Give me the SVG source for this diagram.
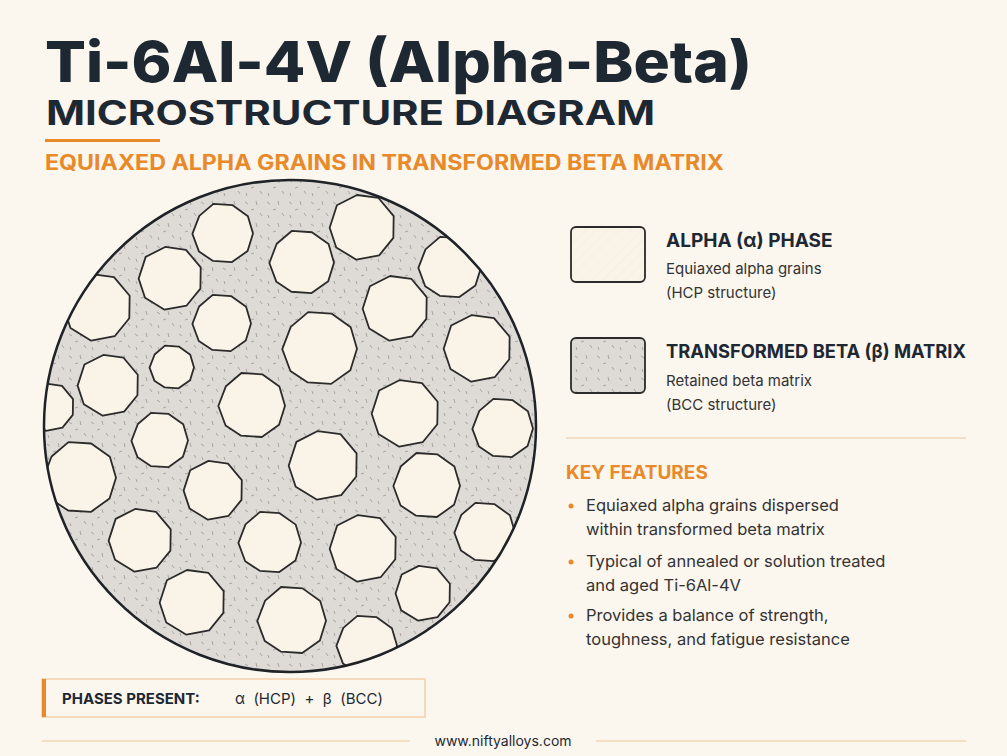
<svg xmlns="http://www.w3.org/2000/svg" xmlns:xlink="http://www.w3.org/1999/xlink" width="1007" height="756" viewBox="0 0 1007 756">
<style>
.t{font-family:"Inter","Liberation Sans",sans-serif;fill:#1d2833}
.o{fill:#e8892a}
.g{fill:#faf3e8;stroke:#2b2b2b;stroke-width:1.8;stroke-linejoin:round}
.s{font-size:15px;fill:#333}
.b{font-size:16.5px;fill:#333}
</style>
<defs>
<pattern id="hatch" width="8" height="8" patternUnits="userSpaceOnUse" patternTransform="rotate(45)">
<rect width="8" height="8" fill="#faf3e8"/><line x1="0" y1="0" x2="0" y2="8" stroke="#f1e8da" stroke-width="0.8"/>
</pattern>
<pattern id="dots" width="22" height="22" patternUnits="userSpaceOnUse">
<rect width="22" height="22" fill="#dedbd6"/>
<g stroke="#9a9690" stroke-width="0.8">
<line x1="3" y1="4" x2="6" y2="6"/><line x1="14" y1="3" x2="15" y2="7"/><line x1="9" y1="12" x2="12" y2="11"/><line x1="18" y1="15" x2="20" y2="18"/><line x1="4" y1="17" x2="5" y2="20"/>
</g>
</pattern>
<clipPath id="cc"><circle cx="290" cy="426" r="246"/></clipPath>
<polygon id="gA" vector-effect="non-scaling-stroke" points="1,0.02 0.82,0.6 0.3,0.97 -0.33,0.93 -0.8,0.62 -1.02,0.03 -0.79,-0.57 -0.32,-0.97 0.31,-0.93 0.83,-0.56"/>
<polygon id="gB" vector-effect="non-scaling-stroke" points="0.95,0.33 0.52,0.86 -0.17,0.99 -0.78,0.62 -0.98,0.02 -0.76,-0.66 -0.15,-0.97 0.5,-0.88 0.96,-0.33"/>
</defs>
<rect width="1007" height="756" fill="#fbf6ee"/>
<g id="title">
<text class="t" x="45" y="82" font-size="57" font-weight="800" textLength="707" lengthAdjust="spacingAndGlyphs">Ti-6Al-4V (Alpha-Beta)</text>
<text class="t" x="46" y="125" font-size="34" font-weight="700" textLength="609" lengthAdjust="spacingAndGlyphs">MICROSTRUCTURE DIAGRAM</text>
<rect x="45" y="139" width="115" height="3" fill="#e8892a"/>
<text class="t o" x="45" y="170" font-size="21" font-weight="700" textLength="679" lengthAdjust="spacingAndGlyphs">EQUIAXED ALPHA GRAINS IN TRANSFORMED BETA MATRIX</text>
</g>
<g id="micrograph">
<circle cx="290" cy="426" r="246" fill="url(#dots)"/>
<g clip-path="url(#cc)" class="g">
<use href="#gA" transform="translate(223 233) scale(30)"/>
<use href="#gB" transform="translate(362 227) scale(33)"/>
<use href="#gB" transform="translate(170 278) scale(32)"/>
<use href="#gA" transform="translate(302 262) scale(32)"/>
<use href="#gA" transform="translate(450 267) scale(31)"/>
<use href="#gB" transform="translate(97 307) scale(34)"/>
<use href="#gA" transform="translate(222 323) scale(29)"/>
<use href="#gB" transform="translate(395 308) scale(33)"/>
<use href="#gA" transform="translate(320 348) scale(37)"/>
<use href="#gB" transform="translate(477 348) scale(34)"/>
<use href="#gA" transform="translate(172 367) scale(22)"/>
<use href="#gB" transform="translate(108 385) scale(31)"/>
<use href="#gA" transform="translate(252 405) scale(33)"/>
<use href="#gB" transform="translate(405 413) scale(34)"/>
<use href="#gA" transform="translate(503 428) scale(30)"/>
<use href="#gB" transform="translate(50 407) scale(24)"/>
<use href="#gA" transform="translate(160 440) scale(28)"/>
<use href="#gB" transform="translate(323 465) scale(35)"/>
<use href="#gA" transform="translate(80 477) scale(36)"/>
<use href="#gB" transform="translate(213 490) scale(30)"/>
<use href="#gA" transform="translate(427 485) scale(33)"/>
<use href="#gB" transform="translate(140 540) scale(32)"/>
<use href="#gA" transform="translate(270 542) scale(31)"/>
<use href="#gB" transform="translate(363 548) scale(34)"/>
<use href="#gA" transform="translate(485 532) scale(30)"/>
<use href="#gB" transform="translate(192 602) scale(33)"/>
<use href="#gA" transform="translate(292 620) scale(34)"/>
<use href="#gB" transform="translate(423 593) scale(28)"/>
<use href="#gA" transform="translate(367 645) scale(30)"/>
</g>
<circle cx="290" cy="426" r="246" fill="none" stroke="#1f2226" stroke-width="2.5"/>
</g>
<g id="legend-alpha">
<rect x="571" y="227" width="74" height="55" rx="5" fill="url(#hatch)" stroke="#2b2b2b" stroke-width="1.8"/>
<text class="t" x="666" y="247" font-size="19" font-weight="700">ALPHA (α) PHASE</text>
<text class="t s" x="666" y="274">Equiaxed alpha grains</text>
<text class="t s" x="666" y="298">(HCP structure)</text>
</g>
<g id="legend-beta">
<rect x="571" y="338" width="74" height="55" rx="5" fill="url(#dots)" stroke="#2b2b2b" stroke-width="1.8"/>
<text class="t" x="666" y="358" font-size="19" font-weight="700" textLength="300" lengthAdjust="spacingAndGlyphs">TRANSFORMED BETA (β) MATRIX</text>
<text class="t s" x="666" y="386">Retained beta matrix</text>
<text class="t s" x="666" y="410">(BCC structure)</text>
</g>
<line x1="566" y1="438" x2="966" y2="438" stroke="#f0c89a" stroke-width="1.2"/>
<g id="key-features">
<text class="t o" x="566" y="479" font-size="19" font-weight="700">KEY FEATURES</text>
<circle cx="571" cy="506" r="2.5" fill="#e8892a"/>
<circle cx="571" cy="562" r="2.5" fill="#e8892a"/>
<circle cx="571" cy="616" r="2.5" fill="#e8892a"/>
<text class="t b" x="586" y="511">Equiaxed alpha grains dispersed</text>
<text class="t b" x="586" y="535">within transformed beta matrix</text>
<text class="t b" x="586" y="567">Typical of annealed or solution treated</text>
<text class="t b" x="586" y="591">and aged Ti-6Al-4V</text>
<text class="t b" x="586" y="621">Provides a balance of strength,</text>
<text class="t b" x="586" y="645">toughness, and fatigue resistance</text>
</g>
<g id="phases">
<rect x="42" y="679" width="383" height="38" fill="#fbf6ee" stroke="#f0c89a" stroke-width="1.2"/>
<rect x="42" y="679" width="4" height="38" fill="#e8892a"/>
<text class="t" x="62" y="704" font-size="15" font-weight="700">PHASES PRESENT:</text>
<text class="t" x="235" y="704" font-size="15" xml:space="preserve">α  (HCP)  +  β  (BCC)</text>
</g>
<g id="footer">
<line x1="42" y1="741" x2="410" y2="741" stroke="#f0c89a" stroke-width="1.2"/>
<line x1="596" y1="741" x2="966" y2="741" stroke="#f0c89a" stroke-width="1.2"/>
<text class="t" x="503" y="746" font-size="14" text-anchor="middle" fill="#333">www.niftyalloys.com</text>
</g>
</svg>
